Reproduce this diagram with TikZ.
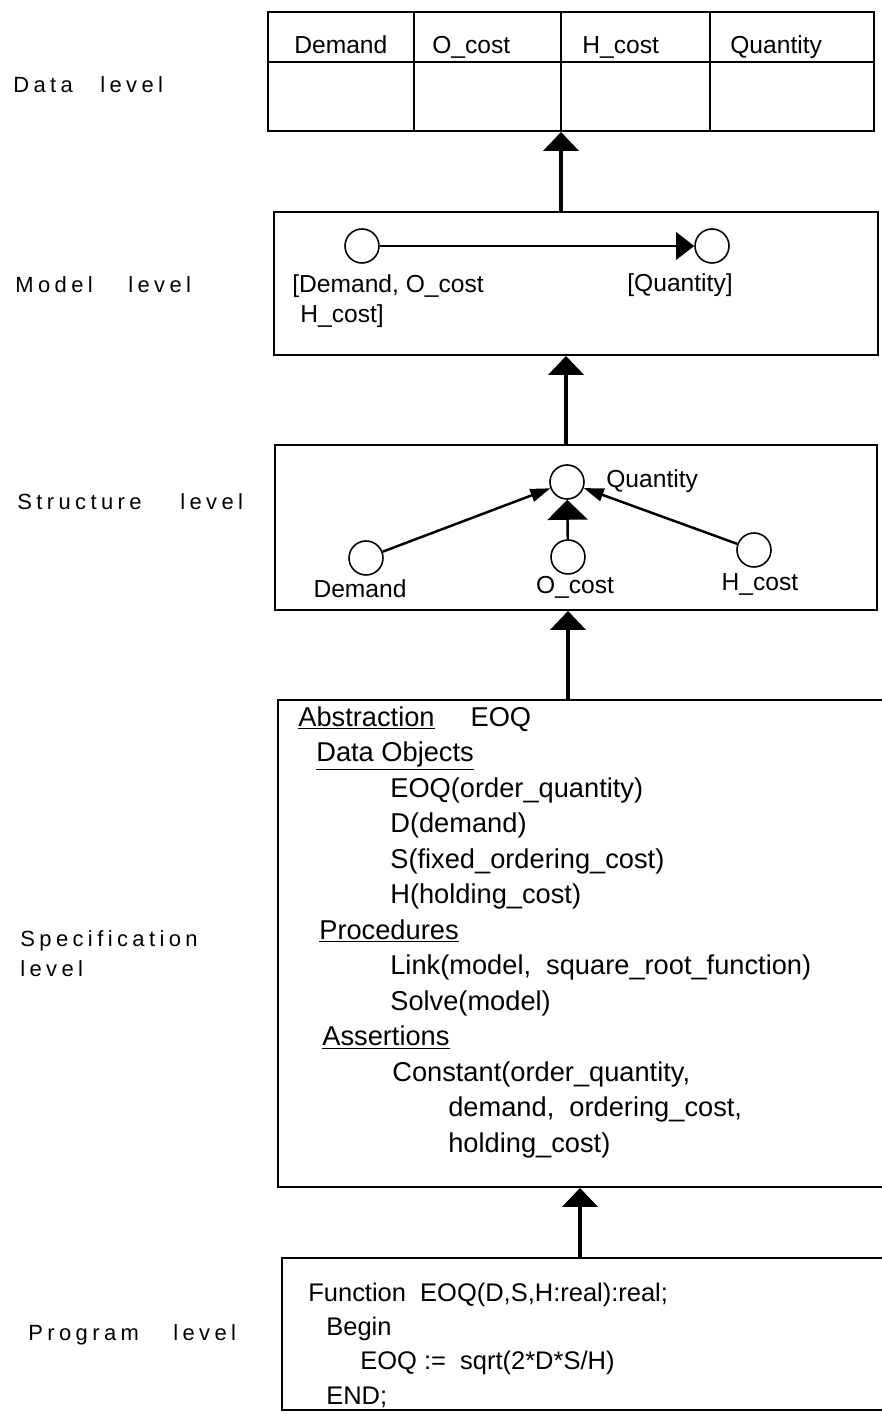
\documentclass[tikz,border=0pt]{standalone}
\usepackage{fontspec}
\setmainfont{Liberation Sans}
\newfontfamily\levelfont[LetterSpace=20]{Liberation Sans}
\usetikzlibrary{arrows.meta}
\newcommand{\lvl}[2]{\makebox[#1][l]{#2}level}

\begin{document}
\begin{tikzpicture}[x=1cm,y=1cm,
  box/.style={draw,line width=1.1pt,inner sep=0pt},
  dot/.style={circle,draw,line width=0.9pt,minimum size=6.8mm,inner sep=0pt},
  lift/.style={line width=2.4pt,-{Triangle[width=7mm,length=3.8mm]}},
  flow/.style={line width=1.1pt,-{Triangle[width=5.5mm,length=3.6mm]}},
  feed/.style={line width=1.4pt,-{Triangle[width=2.6mm,length=4mm]}},
  push/.style={line width=1.4pt,-{Triangle[width=8mm,length=4mm]}},
  txt/.style={inner sep=0pt,font=\fontsize{14}{17}\selectfont},
  lbl/.style={inner sep=0pt,anchor=base west,align=left,font=\levelfont\fontsize{12.5}{17}\selectfont}]
\path[use as bounding box] (0,0) rectangle (17.64,28.28);
% level names
\node[lbl] (ldata) at (0.26,26.42) {\lvl{1.74cm}{Data}};
\node[lbl] (lmodel) at (0.30,22.42) {\lvl{2.26cm}{Model}};
\node[lbl] (lstruct) at (0.34,18.08) {\lvl{3.26cm}{Structure}};
\node[lbl,anchor=north west] (lspec) at (0.40,9.68) {Specification\\level};
\node[lbl] (lprog) at (0.56,1.46) {\lvl{2.90cm}{Program}};
% boxes
\node[box,minimum width=12.12cm,minimum height=2.38cm] (data) at (11.42,26.85) {};
\node[box,minimum width=12.08cm,minimum height=2.86cm] (model) at (11.52,22.61) {};
\node[box,minimum width=12.04cm,minimum height=3.30cm] (struct) at (11.52,17.73) {};
\node[box,minimum width=12.40cm,minimum height=9.74cm] (spec) at (11.76,9.41) {};
\node[box,minimum width=12.40cm,minimum height=3.04cm] (prog) at (11.84,1.60) {};
% data table
\draw[line width=1.1pt] ([yshift=-1.02cm]data.north west) -- ([yshift=-1.02cm]data.north east);
\foreach \cx in {8.28,11.22,14.20}
  \draw[line width=1.1pt] (\cx,0 |- data.north) -- (\cx,0 |- data.south);
\foreach \cx/\word [count=\i] in {5.88/Demand,8.64/O\_cost,11.64/H\_cost,14.60/Quantity}
  \node[txt,anchor=base west] (head\i) at (\cx,27.2) {\word};
% model
\node[dot] (min) at (7.24,23.36) {};
\node[dot] (mout) at (14.24,23.36) {};
\draw[flow] (min) -- (mout);
\node[txt,anchor=base west] (minlbl) at (5.84,22.42) {[Demand, O\_cost};
\node[txt,anchor=base west] (minlbl2) at (6.00,21.82) {H\_cost]};
\node[txt,anchor=base] (moutlbl) at (13.60,22.44) {[Quantity]};
% structure
\node[dot] (sqty) at (11.34,18.64) {};
\node[dot] (sdem) at (7.32,17.12) {};
\node[dot] (socost) at (11.36,17.14) {};
\node[dot] (shcost) at (15.08,17.28) {};
\draw[feed] (sdem) -- (sqty);
\draw[feed] (shcost) -- (sqty);
\draw[push] (socost) -- (sqty);
\node[txt,anchor=base west] (lqty) at (12.12,18.52) {Quantity};
\node[txt,anchor=base] (ldem) at (7.20,16.32) {Demand};
\node[txt,anchor=base] (locost) at (11.50,16.40) {O\_cost};
\node[txt,anchor=base] (lhcost) at (15.20,16.46) {H\_cost};
% specification
\node[txt,anchor=north west,align=left,font=\fontsize{15.5}{20.2}\selectfont] (spectext) at (5.96,14.16)
  {\underline{Abstraction}\hspace{0.72cm}EOQ\\
   \hspace*{0.36cm}\underline{Data Objects}\\
   \hspace*{1.84cm}EOQ(order\_quantity)\\
   \hspace*{1.84cm}D(demand)\\
   \hspace*{1.84cm}S(fixed\_ordering\_cost)\\
   \hspace*{1.84cm}H(holding\_cost)\\
   \hspace*{0.42cm}\underline{Procedures}\\
   \hspace*{1.84cm}Link(model,\ \ square\_root\_function)\\
   \hspace*{1.84cm}Solve(model)\\
   \hspace*{0.48cm}\underline{Assertions}\\
   \hspace*{1.88cm}Constant(order\_quantity,\\
   \hspace*{3.00cm}demand,\ \ ordering\_cost,\\
   \hspace*{3.00cm}holding\_cost)};
% program
\node[txt,anchor=north west,align=left,font=\fontsize{14.5}{19.5}\selectfont] (progtext) at (6.16,2.63)
  {Function\ \ EOQ(D,S,H:real):real;\\
   \hspace*{0.36cm}Begin\\
   \hspace*{1.04cm}EOQ\ := \ sqrt(2*D*S/H)\\
   \hspace*{0.36cm}END;};
% level links
\draw[lift] ([xshift=-3mm]model.north) -- ([xshift=-3mm]model.north |- data.south);
\draw[lift] ([xshift=-2mm]struct.north) -- ([xshift=-2mm]struct.north |- model.south);
\draw[lift] ([xshift=-4mm]spec.north) -- ([xshift=-4mm]spec.north |- struct.south);
\draw[lift] ([xshift=-2.4mm]prog.north) -- ([xshift=-2.4mm]prog.north |- spec.south);
\end{tikzpicture}
\end{document}
